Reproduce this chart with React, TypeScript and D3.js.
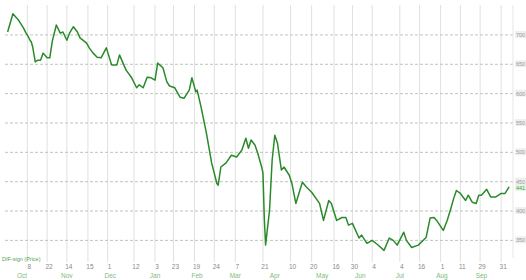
import React from 'react';
import * as d3 from 'd3';

// day offset from the chart start
const days = [
  2, 6, 10, 14, 16, 17, 19, 20, 21, 23,
  25, 27, 29, 32, 34, 36, 39, 42, 44, 47,
  49, 52, 55, 57, 62, 64, 67, 70, 73, 77,
  81, 85, 87, 92, 96, 100, 102, 105, 108, 111,
  114, 116, 120, 123, 125, 129, 133, 136, 140, 142,
  145, 146, 149, 153, 157, 161, 162, 164, 168, 172,
  176, 180, 183, 185, 187, 190, 192, 195, 196, 197,
  198, 201, 203, 205, 207, 210, 212, 216, 218, 221,
  224, 226, 229, 233, 239, 242, 246, 248, 252, 256,
  259, 261, 264, 269, 271, 275, 279, 283, 288, 292,
  295, 298, 303, 305, 309, 314, 320, 323, 326, 328,
  333, 336, 339, 341, 343, 346, 350, 352, 355, 358,
  360, 362, 366, 369, 373, 377, 380, 383,
];

const prices = [
  705, 736, 726, 712, 703, 700, 691, 688, 680, 654,
  657, 657, 669, 661, 661, 690, 717, 703, 705, 691,
  703, 714, 705, 695, 686, 678, 669, 662, 661, 678,
  649, 649, 666, 640, 628, 610, 615, 610, 628, 627,
  623, 652, 644, 620, 613, 610, 594, 592, 606, 627,
  603, 606, 577, 533, 482, 447, 444, 475, 482, 495,
  492, 504, 524, 507, 521, 512, 499, 475, 465, 389,
  342, 401, 487, 529, 516, 470, 475, 461, 447, 413,
  435, 449, 441, 432, 413, 384, 418, 413, 384, 389,
  389, 376, 379, 354, 359, 345, 350, 343, 333, 354,
  350, 342, 364, 350, 338, 342, 355, 388, 389, 384,
  367, 384, 406, 422, 435, 430, 418, 427, 415, 413,
  427, 427, 437, 424, 424, 430, 430, 441,
];

const tickDays = [17, 32, 47, 63, 78, 98, 114, 128, 144, 159, 175, 196,
  217, 233, 250, 264, 279, 300, 315, 331, 346, 361, 377];
const tickLabels = ['8', '22', '14', '15', '1', '12', '3', '23', '19', '24',
  '7', '21', '10', '20', '16', '30', '4', '4', '16', '1', '11', '29', '31'];

const monthDays = [13, 47, 80, 114, 146, 175, 205, 241, 270, 300, 332, 362];
const monthLabels = ['Oct', 'Nov', 'Dec', 'Jan', 'Feb', 'Mar', 'Apr', 'May',
  'Jun', 'Jul', 'Aug', 'Sep'];

const priceTicks = [700, 650, 600, 550, 500, 450, 400, 350];
const seriesName = 'DIF-sign (Price)';

export default class App extends React.Component {
  svgRef = React.createRef<SVGSVGElement>();

  componentDidMount(): void {
    this.drawChart();
  }

  render() {
    return (
      <div style={{position: 'absolute', left: 0, top: 0}}>
        <svg ref={this.svgRef} width={526} height={280}
          style={{display: 'block', background: '#fff'}}></svg>
      </div>
    );
  }

  drawChart() {
    const left = 5;
    const right = 513;
    const top = 5;
    const bottom = 258;

    const x = d3.scaleLinear().domain([0, 386]).range([left, right]);
    const y = d3.scaleLinear().domain([320, 751]).range([bottom, top]);

    const svg = d3.select(this.svgRef.current)
        .style('font-family', '"Liberation Sans", Arial, sans-serif');

    // vertical grid (runs a little below the plot as tick marks)
    svg.append('g')
        .selectAll('line')
        .data(tickDays)
        .join('line')
        .attr('x1', (d) => x(d))
        .attr('x2', (d) => x(d))
        .attr('y1', top)
        .attr('y2', bottom + 4)
        .attr('stroke', '#e0e0e0')
        .attr('stroke-width', 1);

    // horizontal grid
    svg.append('g')
        .selectAll('line')
        .data(priceTicks)
        .join('line')
        .attr('x1', left)
        .attr('x2', right)
        .attr('y1', (d) => y(d))
        .attr('y2', (d) => y(d))
        .attr('stroke', '#bcc6bc')
        .attr('stroke-dasharray', '3,2')
        .attr('stroke-width', 1);

    svg.append('line')
        .attr('x1', right).attr('x2', right)
        .attr('y1', top).attr('y2', bottom)
        .attr('stroke', '#e6e6e6');

    // right price labels
    const yl = svg.append('g');
    yl.selectAll('rect')
        .data(priceTicks)
        .join('rect')
        .attr('x', right + 2)
        .attr('y', (d) => y(d) - 4)
        .attr('width', 11)
        .attr('height', 7)
        .attr('fill', '#efefef');
    yl.selectAll('text')
        .data(priceTicks)
        .join('text')
        .attr('x', right + 7.5)
        .attr('y', (d) => y(d) + 2)
        .attr('text-anchor', 'middle')
        .attr('font-size', 5.5)
        .attr('fill', '#999')
        .text((d) => d);

    // price line
    const line = d3.line<number>()
        .x((d, i) => x(days[i]))
        .y((d) => y(d));
    svg.append('path')
        .datum(prices)
        .attr('d', line)
        .attr('fill', 'none')
        .attr('stroke', '#2a8a2a')
        .attr('stroke-width', 1.5)
        .attr('stroke-linejoin', 'round');

    // last value label
    const last = prices[prices.length - 1];
    svg.append('rect')
        .attr('x', right + 2)
        .attr('y', y(last) - 3)
        .attr('width', 11)
        .attr('height', 7)
        .attr('fill', '#e6f3e6');
    svg.append('text')
        .attr('x', right + 7.5)
        .attr('y', y(last) + 3)
        .attr('text-anchor', 'middle')
        .attr('font-size', 5.5)
        .attr('fill', '#44a044')
        .text(last);

    // date labels
    svg.append('g')
        .selectAll('text')
        .data(tickDays)
        .join('text')
        .attr('x', (d) => x(d) + 2)
        .attr('y', 269)
        .attr('text-anchor', 'middle')
        .attr('font-size', 6.5)
        .attr('fill', '#888')
        .text((d, i) => tickLabels[i]);

    svg.append('g')
        .selectAll('text')
        .data(monthDays)
        .join('text')
        .attr('x', (d) => x(d))
        .attr('y', 278)
        .attr('text-anchor', 'middle')
        .attr('font-size', 6.5)
        .attr('fill', '#7cbc7c')
        .text((d, i) => monthLabels[i]);

    svg.append('text')
        .attr('x', 2)
        .attr('y', 261)
        .attr('font-size', 5.5)
        .attr('fill', '#4fa54f')
        .text(seriesName);
  }
}
